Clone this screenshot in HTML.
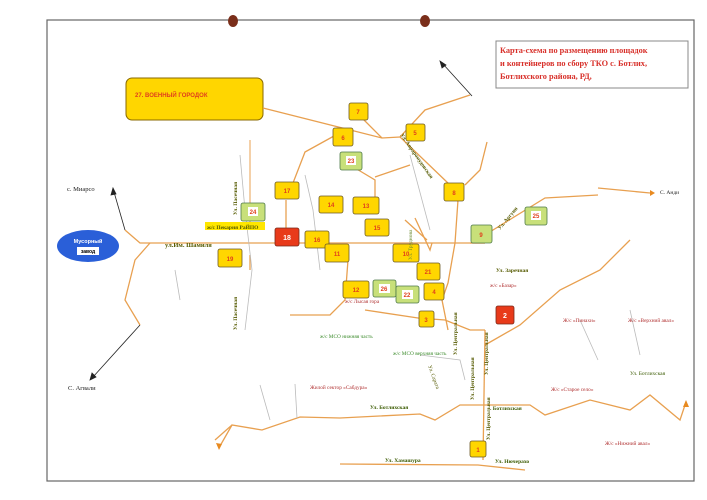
<!DOCTYPE html>
<html><head><meta charset="utf-8"><style>
body{margin:0;background:#fff;}
svg{display:block;font-family:"Liberation Serif",serif;}
</style></head><body>
<svg width="707" height="500" viewBox="0 0 707 500" xmlns="http://www.w3.org/2000/svg">
<rect x="0" y="0" width="707" height="500" fill="#fff"/>
<rect x="47" y="20" width="647" height="461" fill="none" stroke="#666" stroke-width="1.2"/>
<ellipse cx="233" cy="21" rx="5" ry="6" fill="#7a2e1a"/>
<ellipse cx="425" cy="21" rx="5" ry="6" fill="#7a2e1a"/>
<!-- title -->
<rect x="496" y="41" width="192" height="47" fill="#fff" stroke="#888"/>
<text font-size="8.3" font-weight="bold" fill="#d8302a"><tspan x="500" y="53">Карта-схема по размещению площадок</tspan><tspan x="500" y="66">и контейнеров по сбору ТКО с. Ботлих,</tspan><tspan x="500" y="79">Ботлихского района, РД,</tspan></text>
<!-- military -->
<rect x="126" y="78" width="137" height="42" rx="6" fill="#ffd600" stroke="#8a6a00"/>
<text x="135" y="97" font-size="6" font-weight="bold" fill="#e0401c" font-family="Liberation Sans,sans-serif">27. ВОЕННЫЙ ГОРОДОК</text>
<!-- roads -->
<g fill="none" stroke="#e8a050" stroke-width="1.3">
<path d="M263 108 L382 138 L400 137"/>
<path d="M360 116 L382 138"/>
<path d="M470 95 L425 110 L400 137 L450 185"/>
<path d="M487 142 L480 170 L465 185"/>
<path d="M334 136 L305 152 L293 183"/>
<path d="M286 200 L286 228"/>
<path d="M160 243 L485 243"/>
<path d="M125 230 L140 243 L160 243"/>
<path d="M140 325 L125 300 L135 260 L150 243"/>
<path d="M458 200 L455 243 L448 283 L442 300 L448 330"/>
<path d="M485 243 L470 243"/>
<path d="M480 238 L545 198 L598 195"/>
<path d="M598 188 L650 193"/>
<path d="M415 218 L430 250 L432 243"/>
<path d="M375 177 L410 165"/>
<path d="M375 212 L375 180 L350 165"/>
<path d="M348 260 L345 300 L330 315 L290 315"/>
<path d="M365 310 L418 318 L445 320 L470 330 L485 330"/>
<path d="M485 330 L483 460"/>
<path d="M485 345 L520 325 L560 290 L600 270 L630 240"/>
<path d="M220 446 L232 425 L262 430 L300 417 L340 418 L420 414 L435 420 L460 405 L530 405 L545 415 L590 400 L630 410 L650 395 L680 420 L686 402"/>
<path d="M232 425 L215 440"/>
<path d="M340 464 L478 465 L525 470"/>
<path d="M250 140 L250 230" stroke-width="1"/>
<path d="M250 255 L250 270"/>
<path d="M405 220 L427 240"/>
</g>
<g fill="none" stroke="#bbb" stroke-width="0.8">
<path d="M240 155 L245 210 L252 270 L245 330"/>
<path d="M305 175 L313 210 L320 270"/>
<path d="M175 270 L180 300"/>
<path d="M260 385 L270 420"/>
<path d="M295 384 L297 418"/>
<path d="M410 155 L430 230"/>
<path d="M580 320 L598 360"/>
<path d="M630 310 L640 355"/>
<path d="M420 355 L460 360 L465 380"/>
</g>
<!-- arrows -->
<g stroke="#222" stroke-width="0.8" fill="#222">
<line x1="125" y1="230" x2="114" y2="192"/><path d="M113 188 L111 195 L116 194Z"/>
<line x1="140" y1="325" x2="93" y2="377"/><path d="M90 380 L92 373 L96 377Z"/>
<line x1="472" y1="96" x2="443" y2="64"/><path d="M440 61 L442 68 L446 65Z"/>
</g>
<path d="M650 190 L655 193 L650 196Z" fill="#e88a20"/>
<path d="M686 400 L683 407 L689 407Z" fill="#e88a20"/>
<path d="M216 443 L219 450 L222 444Z" fill="#e88a20"/>
<!-- boxes -->
<g font-size="6" font-weight="bold" text-anchor="middle" font-family="Liberation Sans,sans-serif" stroke-width="0.8">
<g fill="#ffd600" stroke="#6b5a2a">
<rect x="349" y="103" width="19" height="17" rx="2"/>
<rect x="333" y="128" width="20" height="18" rx="2"/>
<rect x="406" y="124" width="19" height="17" rx="2"/>
<rect x="275" y="182" width="24" height="17" rx="2"/>
<rect x="444" y="183" width="20" height="18" rx="2"/>
<rect x="319" y="196" width="24" height="17" rx="2"/>
<rect x="353" y="197" width="26" height="17" rx="2"/>
<rect x="365" y="219" width="24" height="17" rx="2"/>
<rect x="305" y="231" width="24" height="17" rx="2"/>
<rect x="325" y="244" width="24" height="18" rx="2"/>
<rect x="393" y="244" width="26" height="18" rx="2"/>
<rect x="218" y="249" width="24" height="18" rx="2"/>
<rect x="417" y="263" width="23" height="17" rx="2"/>
<rect x="343" y="281" width="26" height="17" rx="2"/>
<rect x="424" y="283" width="20" height="17" rx="2"/>
<rect x="419" y="311" width="15" height="16" rx="2"/>
<rect x="470" y="441" width="16" height="16" rx="2"/>
</g>
<g fill="#c8e07a" stroke="#4e7a4a">
<rect x="340" y="152" width="22" height="18" rx="2"/>
<rect x="241" y="203" width="24" height="18" rx="2"/>
<rect x="525" y="207" width="22" height="18" rx="2"/>
<rect x="471" y="225" width="21" height="18" rx="2"/>
<rect x="373" y="280" width="23" height="17" rx="2"/>
<rect x="396" y="286" width="23" height="17" rx="2"/>
</g>
<g fill="#fff"><rect x="346" y="156" width="10" height="9"/><rect x="248" y="207" width="10" height="9"/><rect x="531" y="211" width="10" height="9"/><rect x="379" y="284" width="11" height="9"/><rect x="402" y="290" width="11" height="9"/></g>
<g fill="#e83a1a" stroke="#7a2a1a"><rect x="275" y="228" width="24" height="18" rx="2"/><rect x="496" y="306" width="18" height="18" rx="2"/></g>
<g fill="#e0401c" stroke="none">
<text x="358" y="114">7</text><text x="343" y="140">6</text><text x="415" y="135">5</text><text x="351" y="163">23</text>
<text x="287" y="193">17</text><text x="454" y="195">8</text><text x="331" y="207">14</text><text x="366" y="208">13</text>
<text x="253" y="214">24</text><text x="536" y="218">25</text><text x="377" y="230">15</text><text x="317" y="242">16</text>
<text x="481" y="237">9</text><text x="337" y="256">11</text><text x="406" y="256">10</text><text x="230" y="261">19</text>
<text x="428" y="274">21</text><text x="356" y="292">12</text><text x="384" y="291">26</text><text x="407" y="297">22</text>
<text x="434" y="294">4</text><text x="426" y="322">3</text><text x="478" y="452">1</text>
<text x="287" y="240" fill="#fff" font-size="7">18</text><text x="505" y="318" fill="#fff" font-size="7">2</text>
</g>
</g>
<!-- ellipse -->
<ellipse cx="88" cy="246" rx="31" ry="16" fill="#2a5fd8"/>
<rect x="77" y="247" width="22" height="8" fill="#fff"/>
<text x="88" y="243" font-size="5.5" font-weight="bold" fill="#fff" text-anchor="middle" font-family="Liberation Sans,sans-serif">Мусорный</text>
<text x="88" y="253" font-size="5" font-weight="bold" fill="#000" text-anchor="middle" font-family="Liberation Sans,sans-serif">завод</text>
<!-- labels -->
<g font-size="6.5" fill="#222">
<text x="67" y="191">с. Миарсо</text>
<text x="68" y="390">С. Агвали</text>
<text x="660" y="194" font-size="5.5">С. Анди</text>
</g>
<rect x="205" y="222" width="60" height="8" fill="#ffe600"/>
<g font-size="5.5" font-weight="bold" fill="#555a00">
<text x="207" y="229">ж/с Пекарня РаЙПО</text>
<text x="165" y="247" font-size="6.5">ул.Им. Шамиля</text>
<text x="496" y="272">Ул. Заречная</text>
<text x="370" y="409" fill="#3a5a00">Ул. Ботлихская</text>
<text x="490" y="410" fill="#3a5a00">. Ботлихская</text>
<text x="385" y="462" fill="#3a5a00">Ул. Хамашура</text>
<text x="495" y="463" fill="#3a5a00">Ул. Нючерахо</text>
<text x="630" y="375" fill="#3a5a00" font-weight="normal">Ул. Ботлихская</text>
<text transform="translate(237,215) rotate(-90)">Ул. Пасечная</text>
<text transform="translate(237,330) rotate(-90)">Ул. Пасечная</text>
<text transform="translate(412,260) rotate(-90)" font-weight="normal" fill="#6a8a30">Ул. Труднова</text>
<text transform="translate(400,135) rotate(55)">Ул. Авраромудовская</text>
<text transform="translate(500,230) rotate(-50)">Ул. Аргуни</text>
<text transform="translate(457,355) rotate(-90)">Ул. Центральная</text>
<text transform="translate(488,375) rotate(-90)">Ул. Центральная</text>
<text transform="translate(474,400) rotate(-90)">Ул. Центральная</text>
<text transform="translate(490,440) rotate(-90)">Ул. Центральная</text>
<text transform="translate(428,366) rotate(70)" font-weight="normal">Ул. Сарата</text>
</g>
<g font-size="5.3" fill="#b03030">
<text x="345" y="303">ж/с Лысая гора</text>
<text x="490" y="287">ж/с «Базар»</text>
<text x="563" y="322">Ж/с «Пинахи»</text>
<text x="628" y="322">Ж/с «Верхний авал»</text>
<text x="551" y="391">Ж/с «Старое село»</text>
<text x="605" y="445">Ж/с «Нижний авал»</text>
<text x="310" y="389">Жилой сектор «Сабдура»</text>
</g>
<g font-size="5.3" fill="#3a8a2a">
<text x="320" y="338">ж/с МСО нижняя часть</text>
<text x="393" y="355">ж/с МСО верхняя часть</text>
</g>
</svg>
</body></html>
